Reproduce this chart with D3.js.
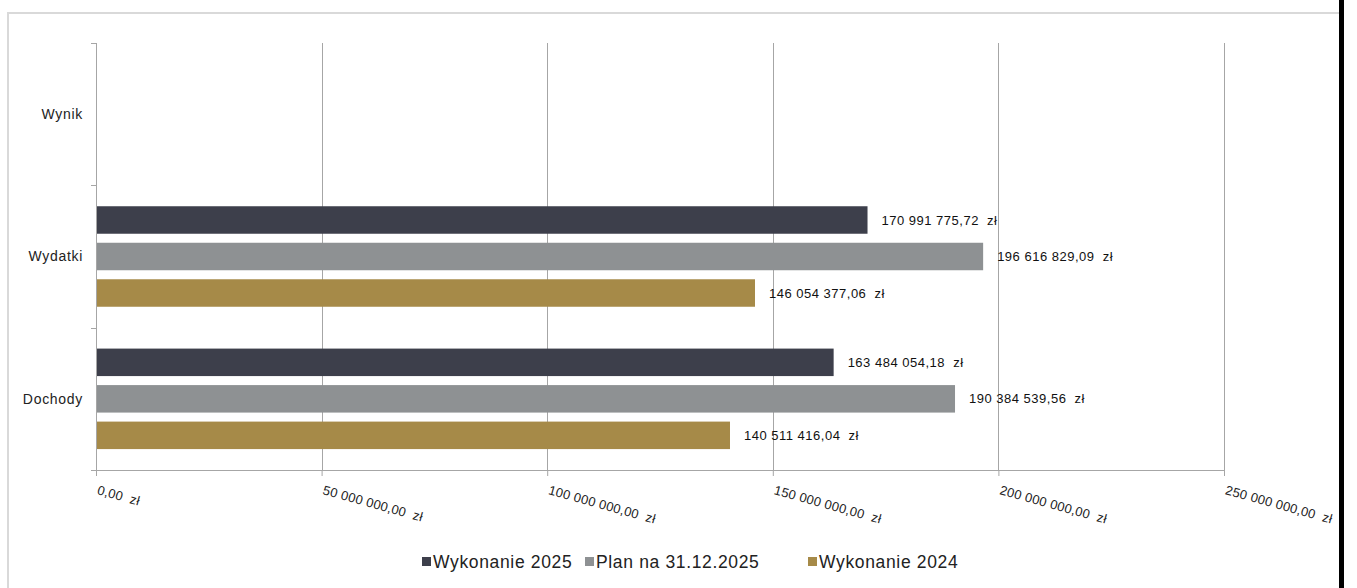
<!DOCTYPE html>
<html>
<head>
<meta charset="utf-8">
<script src="https://cdn.jsdelivr.net/npm/d3@7"></script>
<style>
  html, body { margin: 0; padding: 0; background: #fff; }
  svg { display: block; font-family: "Liberation Sans", Arial, sans-serif; }
</style>
</head>
<body>
<svg id="chart" width="1357" height="588"></svg>
<script>
// ---- data ----
const categories = ["Wynik", "Wydatki", "Dochody"];
const seriesNames = ["Wykonanie 2025", "Plan na 31.12.2025", "Wykonanie 2024"];
const wykonanie2025 = [null, 170991775.72, 163484054.18];
const plan2025 = [null, 196616829.09, 190384539.56];
const wykonanie2024 = [null, 146054377.06, 140511416.04];
const tickValues = [0, 50000000, 100000000, 150000000, 200000000, 250000000];
const seriesColors = ["#3d3f4b", "#8e9193", "#a68a48"];

const seriesValues = [wykonanie2025, plan2025, wykonanie2024];

(function () {
// ---- helpers ----
function fmtPL(v) {
  const fixed = v.toFixed(2);
  const [intPart, dec] = fixed.split(".");
  const grouped = intPart.replace(/\B(?=(\d{3})+(?!\d))/g, " ");
  return grouped + "," + dec + "\u00a0\u00a0zł";
}

const svg = d3.select("#chart");

// frame
svg.append("rect").attr("x", 8).attr("y", 13).attr("width", 1345).attr("height", 600)
  .attr("fill", "none").attr("stroke", "#d9d9d9").attr("stroke-width", 2);

const pLeft = 96, pRight = 1224, pTop = 43, pBottom = 470;

const x = d3.scaleLinear().domain([0, 250000000]).range([pLeft, pRight]);
const y = d3.scaleBand().domain(categories).range([pTop, pBottom]).padding(0);
const yInner = d3.scaleBand().domain(seriesNames).range([0, y.bandwidth()])
  .paddingInner(0.247).paddingOuter(0.573);

// gridlines
svg.append("g").selectAll("line").data(tickValues.slice(1)).join("line")
  .attr("x1", d => Math.round(x(d)) + 0.5).attr("x2", d => Math.round(x(d)) + 0.5)
  .attr("y1", pTop).attr("y2", pBottom)
  .attr("stroke", "#a6a6a6").attr("stroke-width", 1);

// bars
const barData = [];
categories.forEach((c, ci) => {
  seriesNames.forEach((s, si) => {
    const v = seriesValues[si][ci];
    if (v != null) barData.push({ c, s, si, v });
  });
});

svg.append("g").selectAll("rect").data(barData).join("rect")
  .attr("x", x(0))
  .attr("y", d => y(d.c) + yInner(d.s))
  .attr("width", d => x(d.v) - x(0))
  .attr("height", yInner.bandwidth())
  .attr("fill", d => seriesColors[d.si]);

// data labels
svg.append("g").selectAll("text").data(barData).join("text")
  .attr("x", d => x(d.v) + 14)
  .attr("y", d => y(d.c) + yInner(d.s) + yInner.bandwidth() / 2)
  .attr("dy", "0.35em")
  .attr("font-size", 13)
  .attr("letter-spacing", "0.5px")
  .attr("fill", "#111")
  .text(d => fmtPL(d.v));

// x axis
const xAxis = d3.axisBottom(x).tickValues(tickValues).tickSize(6).tickFormat(d => fmtPL(d));
const gx = svg.append("g").attr("transform", `translate(0,${pBottom})`).call(xAxis);
gx.select(".domain").attr("stroke", "#a6a6a6").attr("d", `M${pLeft},0.5H${pRight}`);
gx.selectAll(".tick line").attr("stroke", "#a6a6a6").attr("y1", 0);
gx.selectAll(".tick text")
  .attr("text-anchor", "start")
  .attr("font-size", 13)
  .attr("letter-spacing", "0.2px")
  .attr("fill", "#222")
  .attr("font-family", "Liberation Sans, Arial, sans-serif")
  .attr("y", 0).attr("dy", 0)
  .attr("transform", "translate(0,24) rotate(15.5)");

// y axis
const yAxisG = svg.append("g").attr("transform", `translate(${pLeft},0)`);
yAxisG.append("line").attr("x1", 0.5).attr("x2", 0.5).attr("y1", pTop).attr("y2", pBottom)
  .attr("stroke", "#a6a6a6");
const boundaries = categories.map(c => y(c)).concat([pBottom]);
yAxisG.selectAll(".ytick").data(boundaries).join("line")
  .attr("x1", -5).attr("x2", 0).attr("y1", d => Math.round(d) + 0.5).attr("y2", d => Math.round(d) + 0.5)
  .attr("stroke", "#a6a6a6");
yAxisG.selectAll(".ylab").data(categories).join("text")
  .attr("x", -13)
  .attr("y", d => y(d) + y.bandwidth() / 2)
  .attr("dy", "0.35em")
  .attr("text-anchor", "end")
  .attr("font-size", 14)
  .attr("letter-spacing", "0.7px")
  .attr("fill", "#222")
  .text(d => d);

// legend
const legendX = [422, 585, 808];
const lg = svg.append("g");
seriesNames.forEach((s, i) => {
  lg.append("rect").attr("x", legendX[i]).attr("y", 557).attr("width", 9).attr("height", 9)
    .attr("fill", seriesColors[i]);
  lg.append("text").attr("x", legendX[i] + 11).attr("y", 568)
    .attr("font-size", 17.5).attr("letter-spacing", "0.65px").attr("fill", "#222").text(s);
});

// black bar at right edge
svg.append("rect").attr("x", 1339).attr("y", 0).attr("width", 5).attr("height", 588).attr("fill", "#000");
svg.append("rect").attr("x", 1344).attr("y", 0).attr("width", 13).attr("height", 588).attr("fill", "#fff");
})();
</script>
</body>
</html>
